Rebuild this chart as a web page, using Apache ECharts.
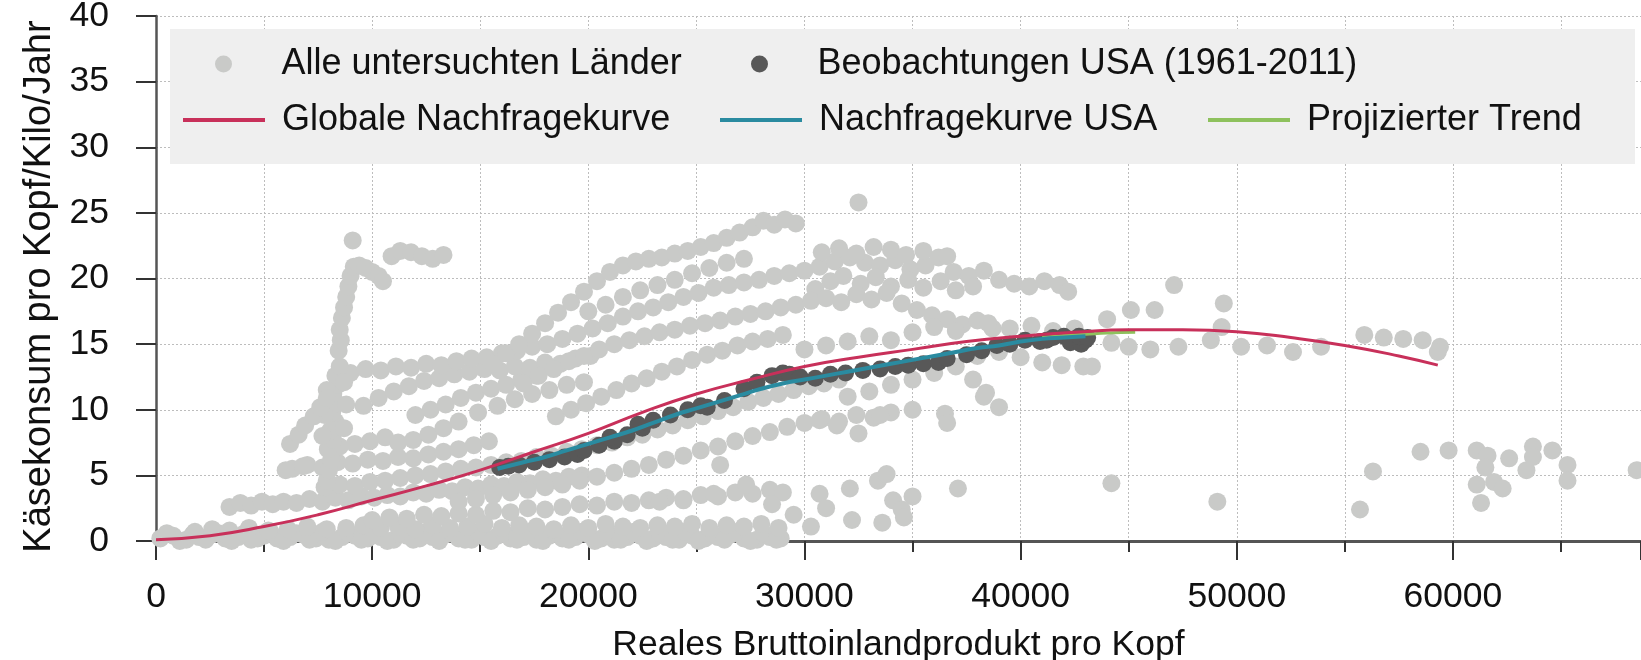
<!DOCTYPE html>
<html>
<head>
<meta charset="utf-8">
<script src="https://cdn.jsdelivr.net/npm/echarts@6/dist/echarts.min.js"></script>
<style>
html,body{margin:0;padding:0;background:#fff;}
#chart{width:1641px;height:660px;}
</style>
</head>
<body>
<div id="chart"></div>
<script>
// ---- Data ----
const xTicks = [0, 10000, 20000, 30000, 40000, 50000, 60000];
const yTicks = [0, 5, 10, 15, 20, 25, 30, 35, 40];

// "Alle untersuchten Länder" – grey observations, grouped by visible trajectories
const bandZero = [[200,0.2],[800,0.4],[1400,0.1],[2000,0.3],[2600,0.5],[3200,0.2],[3800,0.3],[4400,0.1],[5000,0.4],[5600,0.2],[6200,0.3],[6800,0.5],[7400,0.2],[8000,0.1],[8600,0.3],[9200,0.4],[9800,0.2],[10400,0.3],[11000,0.1],[11600,0.4],[12200,0.2],[12800,0.3],[13400,0.5],[14000,0.2],[14600,0.1],[15200,0.3],[15800,0.4],[16400,0.2],[17000,0.3],[17600,0.1],[18200,0.4],[18800,0.2],[19400,0.3],[20000,0.5],[20600,0.2],[21200,0.1],[21800,0.3],[22400,0.4],[23000,0.2],[23600,0.3],[24200,0.1],[24800,0.4],[25400,0.2],[26000,0.3],[26600,0.5],[27200,0.2],[27800,0.1],[28400,0.3],[28900,0.2]];
const bandZeroB = [[500,0.6],[1100,0.0],[1700,0.5],[2300,0.1],[2900,0.6],[3500,0.0],[4100,0.6],[4700,0.2],[5300,0.7],[5900,0.0],[6500,0.6],[7100,0.1],[7700,0.7],[8300,0.0],[8900,0.6],[9500,0.1],[10100,0.7],[10700,0.0],[11300,0.6],[11900,0.1],[12500,0.7],[13100,0.0],[13700,0.6],[14300,0.1],[14900,0.7],[15500,0.0],[16100,0.6],[16700,0.1],[17300,0.7],[17900,0.0],[18500,0.6],[19100,0.1],[19700,0.7],[20300,0.0],[20900,0.6],[21500,0.1],[22100,0.7],[22700,0.0],[23300,0.6],[23900,0.1],[24500,0.7],[25100,0.0],[25700,0.6],[26300,0.1],[26900,0.7],[27500,0.0],[28100,0.6],[28700,0.1]];
const bandLow = [[1800,0.7],[2600,0.9],[3400,0.8],[4300,1.0],[5200,0.8],[6100,0.9],[7000,1.1],[7900,0.9],[8800,1.0],[9600,1.2],[10400,1.0],[11200,1.1],[12000,0.9],[12800,1.2],[13600,1.0],[14400,1.1],[15200,1.3],[16000,1.0],[16800,1.2],[17600,1.1],[18400,0.9],[19200,1.2],[20000,1.0],[20800,1.3],[21600,1.1],[22400,1.0],[23200,1.2],[24000,1.1],[24800,1.3],[25600,1.0],[26400,1.2],[27200,1.1],[28000,1.3],[28800,1.0]];
const bandRising = [[10000,1.6],[10800,1.8],[11600,1.7],[12400,2.0],[13200,1.9],[14000,2.1],[14800,2.0],[15600,2.3],[16400,2.2],[17200,2.5],[18000,2.4],[18800,2.6],[19600,2.8],[20400,2.7],[21200,3.0],[22000,2.9],[22800,3.1],[23600,3.3],[24400,3.2],[25200,3.5],[26000,3.4],[26800,3.7],[27600,3.6],[28400,3.9]];
const bandThree = [[3400,2.6],[3900,2.9],[4400,2.7],[4900,3.0],[5400,2.8],[5900,3.0],[6500,2.9],[7100,3.2],[7700,3.0],[8300,3.3],[8900,3.1],[9500,3.4],[10100,3.3],[10700,3.5],[11300,3.4],[11900,3.7],[12500,3.6],[13100,3.9],[13700,3.8],[14300,4.1],[14900,4.0],[15500,4.3],[16100,4.2],[16700,4.5],[17300,4.4],[17900,4.7],[18500,4.6],[19100,4.9],[19700,5.0]];
const bandUnderUSA = [[14000,3.0],[14800,3.2],[15600,3.5],[16400,3.7],[17200,3.9],[18000,4.1],[18800,4.3],[19600,4.6],[20400,4.9],[21200,5.2],[22000,5.5],[22800,5.8],[23600,6.2],[24400,6.5],[25200,6.9],[26000,7.2],[26800,7.6],[27600,8.0],[28400,8.3],[29200,8.7],[30000,9.0],[30800,9.3],[31600,9.1],[32400,9.6],[33200,9.4],[34000,9.8],[35000,10.0],[36500,9.7]];
const bandFour = [[7800,4.1],[8500,4.3],[9200,4.2],[9900,4.5],[10600,4.6],[11300,4.8],[12000,5.0],[12700,5.1],[13400,5.3],[14100,5.5],[14800,5.6],[15500,5.8],[16200,6.0],[16900,6.1],[17600,6.4],[18300,6.5],[19000,6.8],[19700,7.0],[20400,7.3],[21100,7.5],[21800,7.9],[22500,8.1],[23200,8.5],[23900,8.8],[24600,9.2],[25300,9.5],[26000,9.9],[26700,10.2],[27400,10.6],[28100,10.9],[28800,11.2],[29500,11.5],[30200,11.8],[30900,12.0],[31600,12.3]];
const bandSix = [[6300,5.5],[7000,5.8],[7700,5.6],[8400,6.0],[9100,5.9],[9800,6.2],[10500,6.1],[11200,6.4],[11900,6.3],[12600,6.6],[13300,6.8],[14000,7.0],[14700,7.3],[15400,7.6]];
const bandSeven = [[8500,7.2],[9200,7.4],[9900,7.6],[10600,7.9]];
const bandEight = [[11200,7.5],[11900,7.7],[12600,8.1],[13300,8.6],[14000,9.1],[14900,9.8],[15800,10.3],[16600,10.8],[17400,11.2],[18200,11.5],[19000,11.9],[19800,12.1]];
const bandTen = [[12000,9.6],[12700,10.0],[13400,10.4],[14100,10.9],[14800,11.3],[15500,11.6],[16200,11.9],[16900,12.3],[17600,12.6]];
const bandAboveRed = [[18500,9.5],[19200,10.0],[19900,10.5],[20600,11.0],[21300,11.5],[22000,12.0],[22700,12.4],[23400,12.9],[24100,13.3],[24800,13.8],[25500,14.2],[26200,14.5],[26900,14.9],[27600,15.2],[28300,15.4],[29000,15.7]];
const bandTwelve = [[9600,10.3],[10300,10.9],[11000,11.4],[11700,11.8],[12400,12.2],[13100,12.4],[13800,12.7],[14500,12.9],[15200,13.1],[15900,13.0],[16600,13.3],[17300,13.2],[18000,13.6],[18700,13.5],[19400,13.9],[20100,14.1]];
const bandTwenty = [[9000,12.8],[9700,13.1],[10400,13.0],[11100,13.3],[11800,13.2],[12500,13.5],[13200,13.4],[13900,13.7],[14600,13.9],[15300,14.0],[16000,14.3],[16700,14.5],[17400,14.8],[18100,15.0],[18800,15.4],[19500,15.8],[20200,16.2],[20900,16.6],[21600,17.1],[22300,17.5],[23000,17.8],[23700,18.2],[24400,18.6],[25100,18.9],[25800,19.3],[26500,19.5],[27200,19.7],[27900,19.9],[28600,20.2],[29300,20.4],[30000,20.6],[30700,20.9],[31400,21.3],[32100,21.6],[32800,21.2],[33500,21.0],[34200,21.4],[34900,20.7],[35600,21.0],[36200,21.6],[36900,20.5],[37600,20.2],[38300,20.6],[39000,19.9],[39700,19.6],[40400,19.4],[41100,19.8],[41800,19.5],[42200,19.0]];
const bandMidUpper = [[20000,17.5],[20800,18.0],[21600,18.6],[22400,19.1],[23200,19.5],[24000,19.9],[24800,20.4],[25600,20.8],[26400,21.2],[27200,21.5]];
const cloudThirty = [[30500,19.2],[31200,19.8],[31800,20.2],[32600,19.6],[33300,20.1],[34000,19.4],[34800,19.9],[35500,19.3],[36300,19.8],[37000,19.1],[37800,19.4],[30800,22.0],[31600,22.3],[32400,21.9],[33200,22.4],[34000,22.2],[34700,21.8],[35500,22.1],[36600,21.7]];
const bandSeventeen = [[17000,12.0],[17700,12.6],[18400,13.1],[19100,13.7],[19800,14.1],[20500,14.6],[21200,15.0],[21900,15.3],[22600,15.6],[23300,15.9],[24000,16.1],[24700,16.4],[25400,16.6],[26100,16.8],[26800,17.1],[27500,17.3],[28200,17.5],[28900,17.8],[29600,18.0],[30300,18.3],[31000,18.5],[31700,18.2],[32400,18.8],[33100,18.4],[33800,18.9],[34500,18.1],[35200,17.6],[35900,17.2],[36600,16.9],[37300,16.5],[38000,16.8],[38700,16.2]];
const bandTop = [[15600,13.5],[16200,14.3],[16800,15.0],[17400,15.8],[18000,16.6],[18600,17.4],[19200,18.2],[19800,19.0],[20400,19.8],[21000,20.5],[21600,21.0],[22200,21.3],[22800,21.5],[23400,21.6],[24000,21.9],[24600,22.1],[25200,22.4],[25800,22.7],[26400,23.1],[27000,23.5],[27600,23.9],[28100,24.4],[28600,24.1],[29100,24.5],[29600,24.2]];
const steepColumn = [[7900,4.6],[8000,5.4],[8100,6.2],[7950,7.0],[8200,7.7],[8050,8.4],[8300,9.1],[8150,9.8],[8350,10.5],[8200,11.2],[8400,11.9],[8300,12.6],[8500,13.3],[8450,14.5],[8550,15.3],[8500,16.1],[8600,17.0],[8700,17.8],[8800,18.6],[8900,19.4],[9000,20.2],[9150,20.9],[9100,22.9],[9400,21.0],[9700,20.8],[10000,20.5],[10300,20.2],[10500,19.8],[10900,21.7],[11300,22.1],[11800,22.0],[12300,21.7],[12800,21.5],[13300,21.8],[7700,8.0],[7800,9.6],[7900,11.5],[8700,12.1],[8800,10.4],[8700,8.6]];
const leftCluster = [[6200,7.4],[6600,8.1],[6900,8.8],[7300,9.5],[7600,10.2],[7900,10.9],[6000,5.4],[6800,5.7]];
const midRight = [[30700,9.2],[31500,8.8],[32500,8.2],[33500,9.6],[37800,12.3],[38400,11.3],[36000,12.8],[35000,12.3],[34000,11.9],[33000,11.4],[32000,11.0],[37000,13.3],[38000,14.1],[39000,14.4],[40000,14.0],[41000,13.6],[41900,13.4],[42900,13.3],[30000,14.6],[31000,14.9],[32000,15.2],[33000,15.6],[34000,15.3],[35000,15.9],[36000,16.3],[37000,16.0],[38500,16.6],[39500,16.2],[40500,16.4],[41500,16.0],[42500,16.2],[36600,9.0],[38300,11.0],[39000,10.2],[32500,25.8]];
const lowMid = [[23300,3.0],[24400,3.1],[25800,3.6],[26100,5.8],[27300,4.3],[29000,3.7],[30300,1.1],[30700,3.6],[32100,4.0],[32200,1.6],[33400,4.6],[33800,5.1],[34100,3.1],[34500,2.4],[34600,1.8],[35000,3.4],[33600,1.4],[37100,4.0],[31000,2.5],[29500,2.0],[28500,2.8]];
const rightSide = [[43300,13.3],[44200,15.1],[45000,14.8],[46000,14.6],[47300,14.8],[48800,15.3],[50200,14.8],[51400,14.9],[52600,14.4],[53900,14.8],[55900,15.7],[56800,15.5],[57700,15.4],[58600,15.3],[59400,14.8],[59300,14.4],[45100,17.6],[46200,17.6],[47100,19.5],[49400,18.1],[49300,16.3],[44000,16.9],[44200,4.4],[49100,3.0],[55700,2.4],[56300,5.3],[58500,6.8],[59800,6.9],[61100,6.9],[61600,6.5],[61500,5.6],[61100,4.3],[61900,4.5],[62300,4.0],[61300,2.9],[62600,6.3],[63400,5.4],[63700,7.2],[63700,6.4],[64600,6.9],[65300,5.8],[65300,4.6],[68500,5.4]];

// "Beobachtungen USA (1961-2011)"
const usaObs = [[15900,5.6],[16300,5.7],[16800,5.8],[17500,6.0],[18200,6.2],[18900,6.4],[19500,6.6],[19800,6.9],[20500,7.3],[21200,7.6],[21000,7.9],[21800,8.1],[22500,8.6],[22300,8.9],[23000,9.2],[23800,9.6],[24600,10.0],[25200,10.3],[25500,10.2],[26300,10.7],[27200,11.6],[27800,12.1],[28500,12.6],[29000,12.8],[29300,12.7],[29800,12.5],[30500,12.4],[31200,12.7],[31900,12.8],[32700,13.0],[33500,13.1],[34200,13.3],[34800,13.4],[35500,13.5],[36200,13.6],[36600,13.9],[37500,14.2],[38200,14.5],[38900,14.9],[39500,15.0],[40200,15.3],[40900,15.2],[41500,15.5],[41200,15.3],[42000,15.6],[42600,15.4],[42300,15.1],[42800,15.0],[43000,15.3],[42700,15.6],[43100,15.5]];

// Curves
const globalCurve = [[0,0.1],[2500,0.4],[5000,1.1],[7500,2.0],[10000,3.1],[12500,4.2],[15000,5.4],[17500,6.8],[20000,8.2],[22500,9.8],[25000,11.2],[27500,12.3],[30000,13.3],[32500,14.0],[35000,14.6],[37500,15.2],[40000,15.6],[42500,15.9],[45000,16.1],[47500,16.1],[50000,15.95],[52500,15.5],[55000,14.9],[57500,14.1],[59300,13.4]];
const usaCurve = [[15800,5.5],[17000,6.0],[18000,6.4],[19000,6.9],[20000,7.4],[21000,7.9],[22000,8.4],[23000,9.0],[24000,9.6],[25000,10.1],[26000,10.6],[27000,11.1],[28000,11.6],[29000,12.0],[30000,12.3],[31000,12.6],[32000,12.9],[33000,13.2],[34000,13.5],[35000,13.8],[36000,14.1],[37000,14.4],[38000,14.7],[39000,14.9],[40000,15.2],[41000,15.4],[42000,15.5],[43000,15.6]];
const trendCurve = [[41000,15.5],[42000,15.65],[43000,15.75],[44000,15.85],[45300,15.9]];

const allCountries = [].concat(bandZero, bandZeroB, bandLow, bandRising, bandThree, bandUnderUSA, bandFour, bandSix, bandSeven, bandEight, bandTen, bandAboveRed, bandTwelve, bandTwenty, bandMidUpper, cloudThirty, bandSeventeen, bandTop, steepColumn, leftCluster, midRight, lowMid, rightSide);

// ---- Chart ----
const FONT = '"Liberation Sans", Arial, Helvetica, sans-serif';
const chart = echarts.init(document.getElementById('chart'), null, {renderer: 'canvas'});
function lg(name, icon, left, top, h) {
  return {
    data: [{name: name, icon: icon}], left: left, top: top,
    orient: 'horizontal', padding: 0, itemGap: 0, itemWidth: 82, itemHeight: h,
    selectedMode: false, symbolKeepAspect: true,
    textStyle: {fontFamily: FONT, fontSize: 36, color: '#111', padding: [0, 0, 0, 12]}
  };
}

const splitStyle = {show: true, lineStyle: {type: [2, 2], color: '#bdbdbd', width: 1}};

chart.setOption({
  animation: false,
  backgroundColor: '#ffffff',
  textStyle: {fontFamily: FONT},
  grid: {left: 156, right: 0, top: 16, bottom: 119, containLabel: false, outerBoundsMode: 'none'},
  graphic: [{type: 'rect', z: 1, shape: {x: 170, y: 29, width: 1465, height: 135}, style: {fill: '#efefef'}}],
  legend: [
    lg('Alle untersuchten Länder', 'circle', 215, 46, 17),
    lg('Beobachtungen USA (1961-2011)', 'circle', 751, 46, 17),
    lg('Globale Nachfragekurve', 'rect', 183, 102, 4),
    lg('Nachfragekurve USA', 'rect', 720, 102, 4),
    lg('Projizierter Trend', 'rect', 1208, 102, 4)
  ],
  xAxis: [{
    type: 'value', min: 0, max: 68700, interval: 5000, position: 'bottom',
    name: 'Reales Bruttoinlandprodukt pro Kopf', nameLocation: 'middle', nameGap: 86,
    nameTextStyle: {fontFamily: FONT, fontSize: 35.5, color: '#111'},
    axisLine: {show: true, onZero: false, lineStyle: {color: '#555', width: 3}},
    axisTick: {show: true, length: 11, lineStyle: {color: '#333', width: 2}},
    axisLabel: {fontFamily: FONT, fontSize: 35.5, color: '#111', margin: 38, showMaxLabel: false,
      formatter: function (v) { return xTicks.indexOf(v) >= 0 ? String(v) : ''; }},
    splitLine: splitStyle
  }, {
    type: 'value', min: 0, max: 68700, interval: 10000, position: 'bottom',
    axisLine: {show: false}, axisLabel: {show: false}, splitLine: {show: false},
    axisTick: {show: true, length: 19, lineStyle: {color: '#333', width: 2}}
  }],
  yAxis: {
    type: 'value', min: yTicks[0], max: yTicks[yTicks.length - 1], interval: 5,
    name: 'Käsekonsum pro Kopf/Kilo/Jahr', nameLocation: 'middle', nameGap: 96,
    nameTextStyle: {fontFamily: FONT, fontSize: 38, color: '#111', padding: [0, 16, 0, 0]},
    axisLine: {show: true, lineStyle: {color: '#555', width: 2.5}},
    axisTick: {show: true, length: 20, lineStyle: {color: '#333', width: 2}},
    axisLabel: {fontFamily: FONT, fontSize: 35.5, color: '#111', margin: 47},
    splitLine: splitStyle
  },
  series: [
    {name: 'Alle untersuchten Länder', type: 'scatter', data: allCountries, symbol: 'circle', symbolSize: 18,
      itemStyle: {color: '#c9cac8', opacity: 1}, z: 2, clip: false},
    {name: 'Beobachtungen USA (1961-2011)', type: 'scatter', data: usaObs, symbol: 'circle', symbolSize: 17,
      itemStyle: {color: '#585858', opacity: 1}, z: 3},
    {name: 'Projizierter Trend', type: 'line', data: trendCurve, smooth: true, symbol: 'none',
      lineStyle: {color: '#8ec15d', width: 3}, itemStyle: {color: '#8ec15d'}, z: 4},
    {name: 'Nachfragekurve USA', type: 'line', data: usaCurve, smooth: true, symbol: 'none',
      lineStyle: {color: '#2a8ba0', width: 4}, itemStyle: {color: '#2a8ba0'}, z: 5},
    {name: 'Globale Nachfragekurve', type: 'line', data: globalCurve, smooth: true, symbol: 'none',
      lineStyle: {color: '#c8305a', width: 3}, itemStyle: {color: '#c8305a'}, z: 6}
  ]
});
</script>
</body>
</html>
